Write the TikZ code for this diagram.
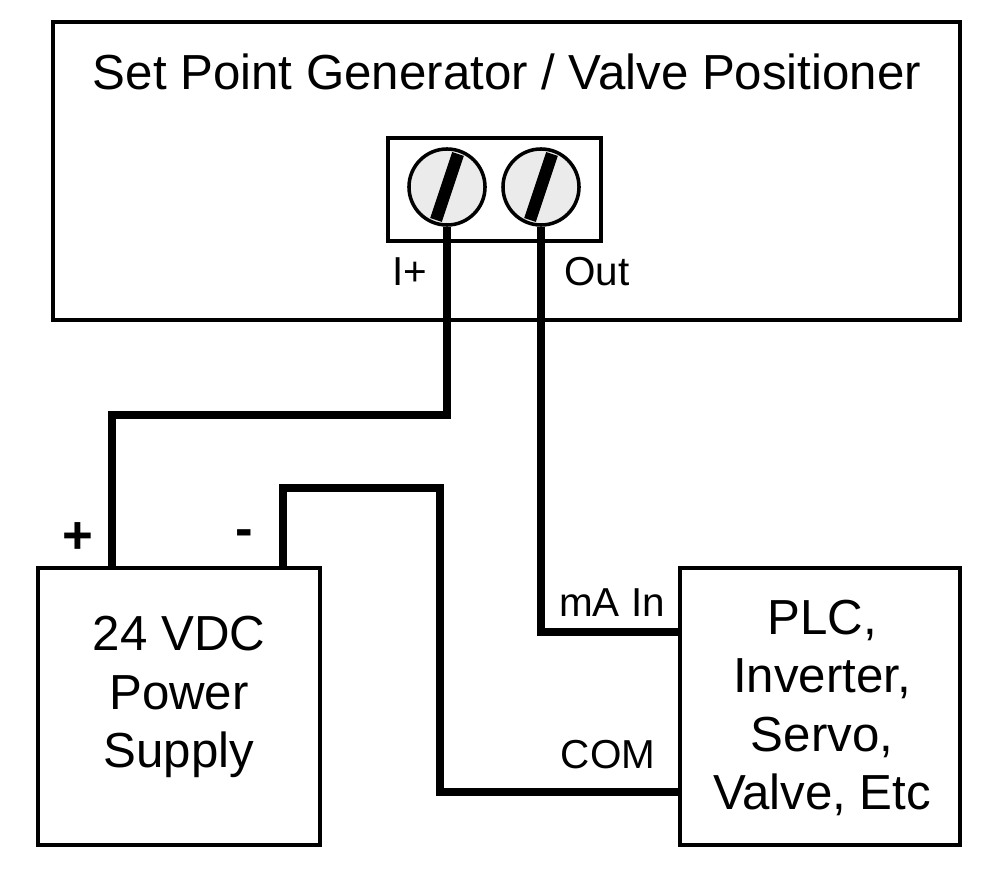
\documentclass[tikz,border=0pt]{standalone}
\usepackage{fontspec}
\setmainfont{Liberation Sans}
\usetikzlibrary{positioning}
\tikzset{
  box/.style={draw,line width=1pt,inner sep=0pt},
  wire/.style={line width=2pt,line join=miter},
  lbl/.style={font=\fontsize{11.5}{13}\selectfont},
  screw/.style={draw,line width=1pt,fill=black!8,circle,minimum size=0.76cm,inner sep=0pt}
}
\begin{document}
\begin{tikzpicture}[x=0.01cm,y=-0.01cm]
  \useasboundingbox (0,0) rectangle (1000,870);
  % boxes
  \draw[line width=1pt] (53,22) rectangle (960,320);
  \node[font=\fontsize{14}{16}\selectfont] (title) at (507,72) {Set Point Generator / Valve Positioner};
  \draw[line width=1pt] (388,138) rectangle (601,241);
  \draw[line width=1pt] (38,568) rectangle (320,845);
  \draw[line width=1pt] (680,568) rectangle (960,845);
  \node[align=center,font=\fontsize{14}{16.6}\selectfont] (psu) at (179,697) {24 VDC\\Power\\Supply};
  \node[align=center,font=\fontsize{14}{16.6}\selectfont] (plc) at (822,708) {PLC,\\Inverter,\\Servo,\\Valve, Etc};
  % terminals
  \node[screw] (ip) at (447,187) {};
  \node[screw] (out) at (541,187) {};
  \foreach \s in {ip,out}
    \draw[line width=3.5pt] ([shift={(-11,33)}]\s.center) -- ([shift={(11,-33)}]\s.center);
  % wires
  \coordinate (pplus) at (112,568);
  \coordinate (pminus) at (283,568);
  \coordinate (mAin) at (680,632);
  \coordinate (com) at (680,792);
  \draw[wire] (ip.south) |- (112,415) -- (pplus);
  \draw[wire] (out.south) |- (mAin);
  \draw[wire] (pminus) |- (440,488) |- (com);
  % labels
  \node[font=\fontsize{15}{16}\selectfont\bfseries] at (78,538) {+};
  \node[font=\fontsize{15}{16}\selectfont\bfseries] at (244,538) {-};
  \node[lbl] at (410,272) {I+};
  \node[lbl] at (597,272) {Out};
  \node[lbl] at (612,603) {mA In};
  \node[lbl] at (608,755) {COM};
\end{tikzpicture}
\end{document}
